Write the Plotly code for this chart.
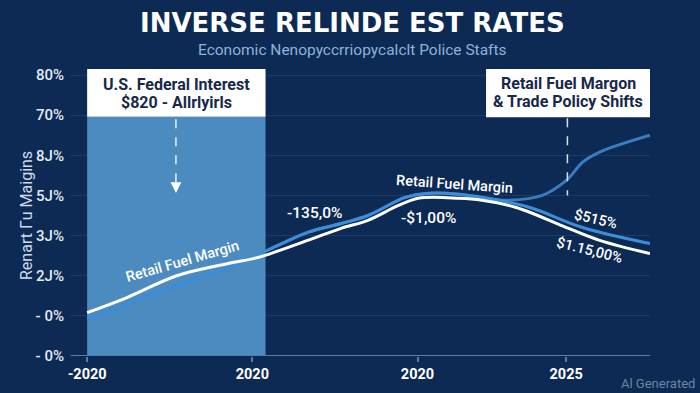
import plotly.graph_objects as go

# ---- data ----
years_white = [2016.0, 2016.95, 2018.17, 2019.39, 2020.12, 2021.34, 2022.15, 2022.8, 2023.54, 2024.02, 2025.0, 2025.56, 2026.39, 2027.61, 2028.41, 2029.63]
vals_white = [1.08, 1.45, 2.0, 2.3, 2.45, 2.88, 3.18, 3.38, 3.75, 3.93, 3.93, 3.88, 3.7, 3.2, 2.88, 2.55]

years_blue_low = [2016.0, 2018.17, 2019.63, 2020.61, 2021.34, 2022.15, 2022.8, 2023.7, 2024.2, 2025.0, 2025.98, 2026.78, 2028.0, 2029.63]
vals_blue_low = [0.93, 1.75, 2.3, 2.75, 3.08, 3.3, 3.5, 3.95, 4.05, 4.03, 3.88, 3.68, 3.2, 2.8]

years_blue_up = [2016.0, 2018.17, 2019.63, 2020.61, 2021.34, 2022.15, 2022.8, 2023.7, 2024.2, 2025.0, 2025.6, 2026.22, 2027.02, 2027.61, 2028.0, 2028.41, 2029.63]
vals_blue_up = [0.93, 1.75, 2.3, 2.75, 3.08, 3.3, 3.5, 3.95, 4.05, 4.03, 3.93, 3.88, 4.0, 4.38, 4.83, 5.08, 5.5]

y_tickvals = [0, 1, 2, 3, 4, 5, 6, 7]
y_ticktext = ["- 0%", "- 0%", "2J%", "3J%", "5J%", "8J%", "70%", "80%"]
x_tickvals = [2016, 2020, 2024, 2027.6]
x_ticktext = ["-2020", "2020", "2020", "2025"]

BG = "#0c2a53"
NAVY_TXT = "#17294a"

fig = go.Figure()

fig.add_trace(go.Scatter(x=years_blue_up, y=vals_blue_up, mode="lines",
                         line=dict(color="#3a7cc0", width=3, shape="spline", smoothing=1.0),
                         hoverinfo="skip"))
fig.add_trace(go.Scatter(x=years_blue_low, y=vals_blue_low, mode="lines",
                         line=dict(color="#3d8ed8", width=3, shape="spline", smoothing=1.0),
                         hoverinfo="skip"))
fig.add_trace(go.Scatter(x=years_white, y=vals_white, mode="lines",
                         line=dict(color="#ffffff", width=3, shape="spline", smoothing=1.0),
                         hoverinfo="skip"))

shapes = []
# shaded period
shapes.append(dict(type="rect", xref="x", yref="y", x0=2016, x1=2020.32, y0=0, y1=5.96,
                   fillcolor="#4b8bbf", line=dict(width=0), layer="between"))
# left white box
shapes.append(dict(type="rect", xref="x", yref="y", x0=2016, x1=2020.32, y0=5.96, y1=7.15,
                   fillcolor="#ffffff", line=dict(width=0), layer="above"))
# right white box
shapes.append(dict(type="rect", xref="x", yref="y", x0=2025.66, x1=2029.63, y0=5.95, y1=7.15,
                   fillcolor="#ffffff", line=dict(width=0), layer="above"))
# left dashed arrow
shapes.append(dict(type="line", xref="x", yref="y", x0=2018.15, x1=2018.15, y0=5.9, y1=4.32,
                   line=dict(color="#e8f0f8", width=1.5, dash="dash"), layer="above"))
shapes.append(dict(type="path", xref="x", yref="y",
                   path="M 2018.02 4.33 L 2018.28 4.33 L 2018.15 4.06 Z",
                   fillcolor="#ffffff", line=dict(width=0), layer="above"))
# right dashed line
shapes.append(dict(type="line", xref="x", yref="y", x0=2027.63, x1=2027.63, y0=5.92, y1=4.0,
                   line=dict(color="#d8e2ee", width=1.5, dash="dash"), layer="above"))
# bottom axis line
shapes.append(dict(type="line", xref="x", yref="y", x0=2015.6, x1=2029.63, y0=0, y1=0,
                   line=dict(color="#5a7da6", width=2), layer="above"))

annotations = []
def ann(text, x, y, size, color="#ffffff", angle=0, weight=500, family="Roboto"):
    annotations.append(dict(text=text, x=x, y=y, xref="x", yref="y", showarrow=False,
                            textangle=angle, xanchor="center", yanchor="middle",
                            font=dict(size=size, color=color, family=family, weight=weight)))

# box texts
ann("U.S. Federal Interest", 2018.16, 6.77, 16, NAVY_TXT, weight=700)
ann("$820 - Allrlyirls", 2018.16, 6.32, 16, NAVY_TXT, weight=700)
ann("Retail Fuel Margon", 2027.65, 6.79, 16, NAVY_TXT, weight=700)
ann("& Trade Policy Shifts", 2027.65, 6.34, 16, NAVY_TXT, weight=700)

# line labels
ann("Retail Fuel Margin", 2018.32, 2.36, 14.5, angle=-16)
ann("-135,0%", 2021.51, 3.56, 15.5)
ann("Retail Fuel Margin", 2024.9, 4.26, 14.5, angle=4)
ann("-$1,00%", 2024.27, 3.44, 15.5)
ann("$515%", 2028.32, 3.41, 14.5, angle=13)
ann("$1.15,00%", 2028.17, 2.64, 14.5, angle=14)

L, R, T, B = 70, 50, 65, 37
plot_w = 700 - L - R
plot_h = 393 - T - B

def px_to_paper(px, py):
    return (px - L) / plot_w, (393 - py - B) / plot_h

tx, ty = px_to_paper(352, 23)
annotations.append(dict(text="<b>INVERSE RELINDE EST RATES</b>", x=tx, y=ty, xref="paper", yref="paper",
                        showarrow=False, xanchor="center", yanchor="middle",
                        font=dict(size=26, color="#ffffff", family="DejaVu Sans")))
sx, sy = px_to_paper(352, 50)
annotations.append(dict(text="Economic Nenopyccrriopycalclt Police Stafts", x=sx, y=sy, xref="paper",
                        yref="paper", showarrow=False, xanchor="center", yanchor="middle",
                        font=dict(size=15.5, color="#8fb1da", family="Roboto")))
wx, wy = px_to_paper(658, 383)
annotations.append(dict(text="Al Generated", x=wx, y=wy, xref="paper", yref="paper", showarrow=False,
                        xanchor="center", yanchor="middle",
                        font=dict(size=13, color="#6f84a3", family="Roboto")))
# y-axis title as annotation for precise placement
yx, yy = px_to_paper(27, 216)
annotations.append(dict(text="Renart Γu Maigins", x=yx, y=yy, xref="paper", yref="paper", showarrow=False,
                        xanchor="center", yanchor="middle", textangle=-90,
                        font=dict(size=16, color="#cfdbea", family="Roboto")))

fig.update_layout(
    width=700, height=393,
    margin=dict(l=L, r=R, t=T, b=B, autoexpand=False),
    paper_bgcolor=BG, plot_bgcolor=BG,
    showlegend=False,
    shapes=shapes,
    annotations=annotations,
    xaxis=dict(range=[2015.585, 2029.63], tickvals=x_tickvals, ticktext=x_ticktext,
               showgrid=False, zeroline=False, showline=False,
               ticks="outside", ticklen=5, tickwidth=1.5, tickcolor="#5a7da6",
               tickfont=dict(size=14.5, color="#ffffff", family="Roboto", weight=700)),
    yaxis=dict(range=[0, 7.249], tickvals=y_tickvals, ticktext=y_ticktext,
               showgrid=True, gridcolor="rgba(120,150,190,0.16)", gridwidth=1,
               zeroline=False, showline=False, ticks="", ticklabelstandoff=5,
               tickfont=dict(size=15, color="#e4ebf4", family="Roboto", weight=500)),
)

fig.write_html("out.html", config={"displayModeBar": False},
               post_script="document.body.style.margin='0';document.body.style.background='" + BG + "';")
